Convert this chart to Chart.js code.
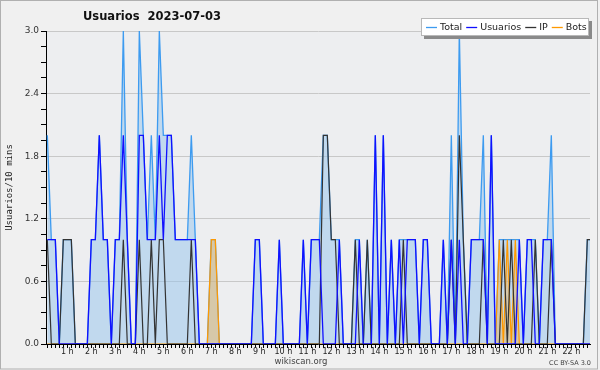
<!DOCTYPE html>
<html>
<head>
<meta charset="utf-8">
<script src="https://cdn.jsdelivr.net/npm/chart.js@4"></script>
<style>
  html, body { margin: 0; padding: 0; background: #f0f0f0; }
  #wrap { width: 600px; height: 370px; }
</style>
</head>
<body>
<div id="wrap"><canvas id="usersChart" width="600" height="370"></canvas></div>
<script>
// one value per 10 minutes, from 00:00
const hourLabels = ["1 h", "2 h", "3 h", "4 h", "5 h", "6 h", "7 h", "8 h", "9 h", "10 h", "11 h",
  "12 h", "13 h", "14 h", "15 h", "16 h", "17 h", "18 h", "19 h", "20 h", "21 h", "22 h"];

const usuarios = [
  1,1,1,0,0,0,0,0,0,0,0,1,
  1,2,1,1,0,1,1,2,1,0,0,2,
  2,1,1,1,2,1,2,2,1,1,1,1,
  1,1,0,0,0,0,0,0,0,0,0,0,
  0,0,0,0,1,1,0,0,0,0,1,0,
  0,0,0,0,1,0,1,1,1,0,0,0,
  0,1,0,0,0,0,1,0,0,0,2,0,
  2,0,1,0,1,0,1,1,1,0,1,1,
  0,0,0,1,0,1,0,1,0,0,1,1,
  1,1,0,2,0,0,0,0,0,0,1,0,
  1,1,0,0,1,1,1,0,0,0,0,0,
  0,0,0,0,0
];
const ip = [
  1,0,0,0,1,1,1,0,0,0,0,0,
  0,0,0,0,0,0,0,1,0,0,0,1,
  0,0,1,0,1,1,0,0,0,0,0,0,
  1,0,0,0,0,0,0,0,0,0,0,0,
  0,0,0,0,0,0,0,0,0,0,0,0,
  0,0,0,0,0,0,0,0,0,2,2,1,
  1,0,0,0,0,1,0,0,1,0,0,0,
  0,0,0,0,0,1,0,0,0,0,0,0,
  0,0,0,0,0,1,0,2,1,0,0,0,
  0,1,0,0,0,0,1,0,1,0,0,0,
  0,0,1,0,0,0,1,0,0,0,0,0,
  0,0,0,1,1
];
const bots = [
  0,0,0,0,0,0,0,0,0,0,0,0,
  0,0,0,0,0,0,0,0,0,0,0,0,
  0,0,0,0,0,0,0,0,0,0,0,0,
  0,0,0,0,0,1,1,0,0,0,0,0,
  0,0,0,0,0,0,0,0,0,0,0,0,
  0,0,0,0,0,0,0,0,0,0,0,0,
  0,0,0,0,0,0,0,0,0,0,0,0,
  0,0,0,0,0,0,0,0,0,0,0,0,
  0,0,0,0,0,0,0,0,0,0,0,0,
  0,0,0,0,0,1,0,1,0,1,0,0,
  0,0,0,0,0,0,0,0,0,0,0,0,
  0,0,0,0,0
];
const total = [
  2,1,1,0,1,1,1,0,0,0,0,1,
  1,2,1,1,0,1,1,3,1,0,0,3,
  2,1,2,1,3,2,2,2,1,1,1,1,
  2,1,0,0,0,1,1,0,0,0,0,0,
  0,0,0,0,1,1,0,0,0,0,1,0,
  0,0,0,0,1,0,1,1,1,2,2,1,
  1,1,0,0,0,1,1,0,1,0,2,0,
  2,0,1,0,1,1,1,1,1,0,1,1,
  0,0,0,1,0,2,0,3,1,0,1,1,
  1,2,0,2,0,1,1,1,1,1,1,0,
  1,1,1,0,1,1,2,0,0,0,0,0,
  0,0,0,1,1
];

const points = (arr) => arr.map((v, i) => ({ x: i, y: v }));

const legendItems = [
  { text: "Total", color: "#3d9bf0" },
  { text: "Usuarios", color: "#1010ff" },
  { text: "IP", color: "#333333" },
  { text: "Bots", color: "#ff9900" },
];

// background of plot, frame, title, legend box and credits
const decor = {
  id: "decor",
  beforeDraw(chart) {
    const { ctx, chartArea: a } = chart;
    ctx.save();
    ctx.fillStyle = "#edeef0";
    ctx.fillRect(a.left, a.top, a.right - a.left, a.bottom - a.top);
    ctx.restore();
  },
  afterDraw(chart) {
    const { ctx } = chart;
    ctx.save();
    ctx.strokeStyle = "#b0b0b0";
    ctx.lineWidth = 1;
    ctx.strokeRect(0.5, 0.5, 597, 368.5);

    ctx.fillStyle = "#111";
    ctx.font = "bold 11.5px 'DejaVu Sans'";
    ctx.textBaseline = "middle";
    ctx.textAlign = "left";
    ctx.fillText("Usuarios  2023-07-03", 83, 17);

    // legend box with shadow
    ctx.fillStyle = "#8a8a8a";
    ctx.fillRect(424, 21, 168, 18);
    ctx.fillStyle = "#ffffff";
    ctx.fillRect(421, 18, 168, 18);
    ctx.strokeStyle = "#b8b8b8";
    ctx.strokeRect(421.5, 18.5, 167, 17);

    ctx.font = "9.5px 'DejaVu Sans'";
    let x = 426;
    legendItems.forEach((it) => {
      ctx.strokeStyle = it.color;
      ctx.lineWidth = 1.3;
      ctx.beginPath();
      ctx.moveTo(x, 27.5);
      ctx.lineTo(x + 11, 27.5);
      ctx.stroke();
      ctx.fillStyle = "#222";
      ctx.fillText(it.text, x + 14, 27.5);
      x += 14 + ctx.measureText(it.text).width + 4;
    });

    ctx.fillStyle = "#444";
    ctx.textAlign = "center";
    ctx.font = "8.5px 'DejaVu Sans'";
    ctx.fillText("wikiscan.org", 301, 362);
    ctx.textAlign = "right";
    ctx.font = "6.5px 'DejaVu Sans'";
    ctx.fillText("CC BY-SA 3.0", 591, 363);
    ctx.restore();
  },
};

new Chart(document.getElementById("usersChart"), {
  type: "line",
  data: {
    datasets: [
      {
        label: "Usuarios",
        data: points(usuarios),
        borderColor: "#1010ff",
        borderWidth: 1.3,
        order: 0,
      },
      {
        label: "IP",
        data: points(ip),
        borderColor: "#333333",
        borderWidth: 1.2,
        order: 1,
      },
      {
        label: "Bots",
        data: points(bots),
        borderColor: "#ff9900",
        backgroundColor: "rgba(255,170,40,0.35)",
        fill: "origin",
        borderWidth: 1.2,
        order: 2,
      },
      {
        label: "Total",
        data: points(total),
        borderColor: "#3d9bf0",
        backgroundColor: "rgba(150,195,235,0.5)",
        fill: "origin",
        borderWidth: 1.3,
        order: 3,
      },
    ],
  },
  options: {
    responsive: false,
    animation: false,
    events: [],
    layout: { padding: { top: 31, right: 10, left: 0, bottom: 0 } },
    elements: { point: { radius: 0 }, line: { tension: 0 } },
    plugins: { legend: { display: false }, title: { display: false }, tooltip: { enabled: false } },
    scales: {
      x: {
        type: "linear",
        bounds: "data",
        min: -0.33,
        max: 135.67,
        afterFit: (s) => { s.height = 26; },
        // one tick every 10 minutes
        afterBuildTicks: (s) => {
          s.ticks = usuarios.map((_, i) => ({ value: i })).filter((t) => t.value <= s.max);
        },
        ticks: {
          autoSkip: false,
          maxRotation: 0,
          padding: -1,
          color: "#222",
          font: { family: "DejaVu Sans", size: 8 },
          callback: (v) => {
            const n = Math.round(v) + 1;
            return n % 6 === 0 ? hourLabels[n / 6 - 1] || "" : "";
          },
        },
        grid: { drawOnChartArea: false, tickLength: 4, color: "#000" },
        border: { color: "#000" },
      },
      y: {
        min: 0,
        max: 3,
        afterFit: (s) => { s.width = 46; },
        ticks: {
          stepSize: 0.15,
          padding: 2,
          color: "#333",
          font: { family: "DejaVu Sans", size: 9 },
          callback: (v) => (Math.round(v / 0.15) % 4 === 0 ? v.toFixed(1) : ""),
        },
        grid: {
          tickLength: 5,
          tickColor: "#000",
          color: (c) => {
            const m = Math.round(c.tick.value / 0.15);
            return m % 4 === 0 && m !== 0 ? "#c8c8c8" : "rgba(0,0,0,0)";
          },
        },
        border: { color: "#000" },
        title: {
          display: true,
          text: "Usuarios/10 mins",
          color: "#222",
          padding: { top: 4, bottom: 0 },
          font: { family: "DejaVu Sans Mono", size: 9 },
        },
      },
    },
  },
  plugins: [decor],
});
</script>
</body>
</html>
